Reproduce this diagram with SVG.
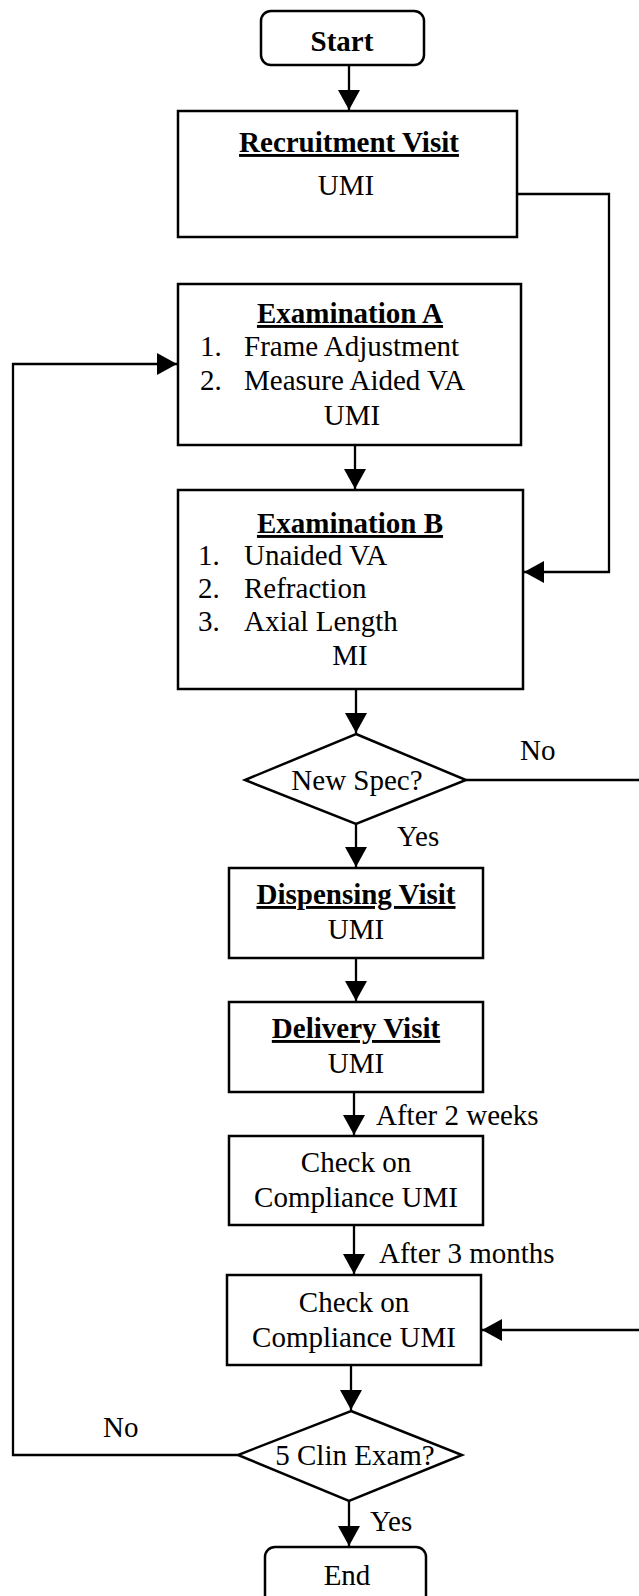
<svg xmlns="http://www.w3.org/2000/svg" width="639" height="1596" viewBox="0 0 639 1596">
<defs>
<style>
.box{fill:#fff;stroke:#000;stroke-width:2.5}
.ln{fill:none;stroke:#000;stroke-width:2.3}
text{font-family:"Liberation Serif","Times New Roman",serif;font-size:29px;fill:#000}
.b{font-weight:bold;text-decoration:underline}
.c{text-anchor:middle}
</style>
<marker id="ah" markerUnits="userSpaceOnUse" markerWidth="20" markerHeight="22" refX="20" refY="11" orient="auto">
<path d="M0,0 L20,11 L0,22 z" fill="#000"/>
</marker>
</defs>
<rect width="639" height="1596" fill="#fff"/>
<g id="connectors">
<path class="ln" d="M349 65 V110" marker-end="url(#ah)"/>
<path class="ln" d="M517 194 H609 V572 H524" marker-end="url(#ah)"/>
<path class="ln" d="M355 445 V489" marker-end="url(#ah)"/>
<path class="ln" d="M356 689 V733" marker-end="url(#ah)"/>
<path class="ln" d="M466 780 H645 V1330 H482" marker-end="url(#ah)"/>
<path class="ln" d="M356 824 V867" marker-end="url(#ah)"/>
<path class="ln" d="M356 958 V1001" marker-end="url(#ah)"/>
<path class="ln" d="M354 1092 V1135" marker-end="url(#ah)"/>
<path class="ln" d="M354 1225 V1274" marker-end="url(#ah)"/>
<path class="ln" d="M351 1365 V1410" marker-end="url(#ah)"/>
<path class="ln" d="M238 1455 H13 V364 H177" marker-end="url(#ah)"/>
<path class="ln" d="M349 1501 V1546" marker-end="url(#ah)"/>
<text x="520" y="760">No</text>
<text x="397" y="846">Yes</text>
<text x="376" y="1125">After 2 weeks</text>
<text x="379" y="1263">After 3 months</text>
<text x="103" y="1437">No</text>
<text x="370" y="1531">Yes</text>
</g>
<g id="start">
<rect class="box" x="261" y="11" width="163" height="54" rx="10"/>
<text class="c" x="342" y="51" font-weight="bold">Start</text>
</g>
<g id="recruitment">
<rect class="box" x="178" y="111" width="339" height="126"/>
<text class="c b" x="349" y="152">Recruitment Visit</text>
<text class="c" x="346" y="195">UMI</text>
</g>
<g id="examA">
<rect class="box" x="178" y="284" width="343" height="161"/>
<text class="c b" x="350" y="323">Examination A</text>
<text x="200" y="356">1.</text><text x="244" y="356">Frame Adjustment</text>
<text x="200" y="390">2.</text><text x="244" y="390">Measure Aided VA</text>
<text class="c" x="352" y="425">UMI</text>
</g>
<g id="examB">
<rect class="box" x="178" y="490" width="345" height="199"/>
<text class="c b" x="350" y="533">Examination B</text>
<text x="198" y="565">1.</text><text x="244" y="565">Unaided VA</text>
<text x="198" y="598">2.</text><text x="244" y="598">Refraction</text>
<text x="198" y="631">3.</text><text x="244" y="631">Axial Length</text>
<text class="c" x="350" y="665">MI</text>
</g>
<g id="newspec">
<path class="box" d="M356 734 L466 780 L356 824 L245 780 Z"/>
<text class="c" x="357" y="790">New Spec?</text>
</g>
<g id="dispensing">
<rect class="box" x="229" y="868" width="254" height="90"/>
<text class="c b" x="356" y="904">Dispensing Visit</text>
<text class="c" x="356" y="939">UMI</text>
</g>
<g id="delivery">
<rect class="box" x="229" y="1002" width="254" height="90"/>
<text class="c b" x="356" y="1038">Delivery Visit</text>
<text class="c" x="356" y="1073">UMI</text>
</g>
<g id="check1">
<rect class="box" x="229" y="1136" width="254" height="89"/>
<text class="c" x="356" y="1172">Check on</text>
<text class="c" x="356" y="1207">Compliance UMI</text>
</g>
<g id="check2">
<rect class="box" x="227" y="1275" width="254" height="90"/>
<text class="c" x="354" y="1312">Check on</text>
<text class="c" x="354" y="1347">Compliance UMI</text>
</g>
<g id="clinexam">
<path class="box" d="M351 1411 L462 1455 L349 1501 L238 1455 Z"/>
<text class="c" x="355" y="1465">5 Clin Exam?</text>
</g>
<g id="end">
<rect class="box" x="265" y="1547" width="161" height="60" rx="10"/>
<text class="c" x="347" y="1585">End</text>
</g>
</svg>
